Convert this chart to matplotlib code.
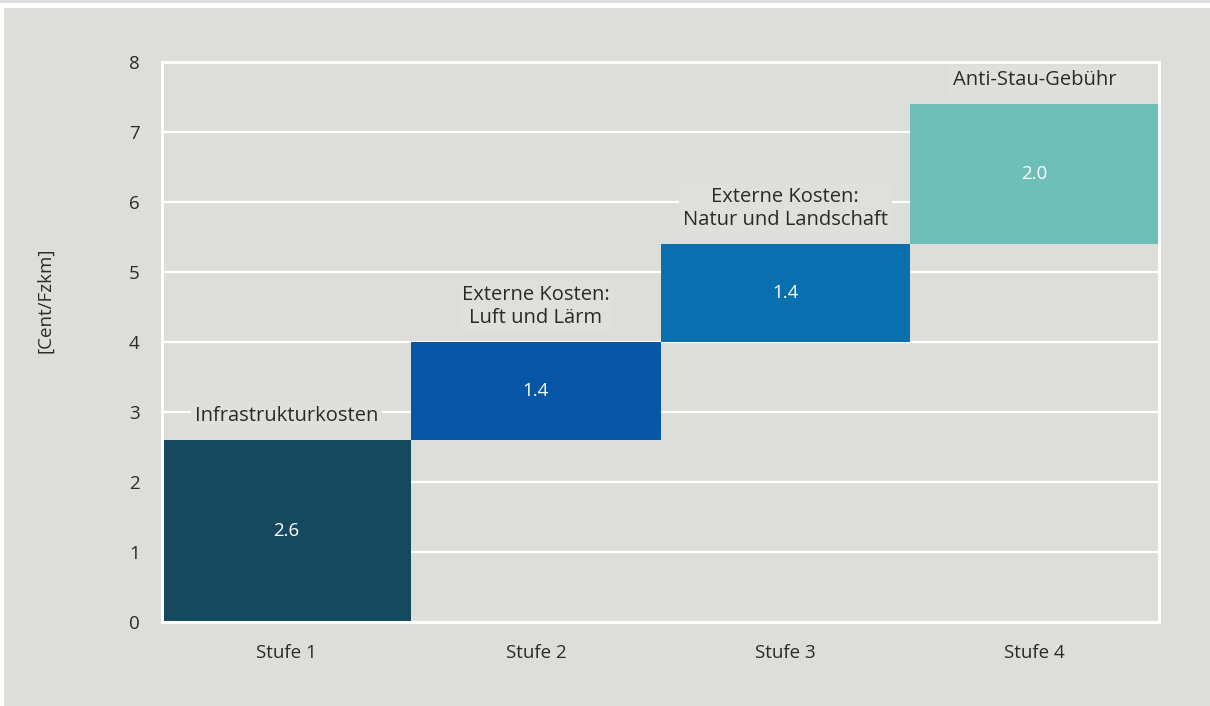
import matplotlib.pyplot as plt
from matplotlib.patches import Rectangle

# Mautstufen: Anteile je Stufe in Cent/Fzkm
stufen = ["Stufe 1", "Stufe 2", "Stufe 3", "Stufe 4"]
anteile = [2.6, 1.4, 1.4, 2.0]
beschriftung = ["Infrastrukturkosten", "Externe Kosten:\nLuft und Lärm",
                "Externe Kosten:\nNatur und Landschaft", "Anti-Stau-Gebühr"]
farben = ["#154a5e", "#0756a6", "#0a6fae", "#6ebfb8"]

bg = "#dddeda"
txt = "#2a2a2a"
plt.rcParams["font.family"] = ["Open Sans", "DejaVu Sans"]

fig = plt.figure(figsize=(12.1, 7.06), dpi=100, facecolor="white")
# grauer Hintergrund mit weisser Linie oben
fig.patches.append(Rectangle((4 / 1210, 0), 1, (706 - 8) / 706, transform=fig.transFigure,
                             facecolor=bg, edgecolor="none", zorder=-10))
fig.patches.append(Rectangle((0, (706 - 3) / 706), 1, 3 / 706, transform=fig.transFigure,
                             facecolor=bg, edgecolor="none", zorder=-10))

ax = fig.add_axes([162 / 1210, (706 - 622) / 706, (1159 - 162) / 1210, 560 / 706])
ax.set_facecolor(bg)

# Treppenstufen: jede Stufe beginnt auf der Summe der vorherigen
basis = []
s = 0
for a in anteile:
    basis.append(s)
    s += a
x = list(range(len(stufen)))
ax.bar(x, anteile, bottom=basis, width=1.0, color=farben, zorder=3)

for i, (b, a) in enumerate(zip(basis, anteile)):
    ax.text(i, b + a / 2, f"{a:.1f}", ha="center", va="center",
            color="white", fontsize=13.5, zorder=4)
    ax.text(i, b + a + 0.2, beschriftung[i], ha="center", va="bottom",
            fontsize=14.5, color=txt, linespacing=1.2, zorder=4,
            bbox=dict(boxstyle="square,pad=0.2", facecolor="#dfe0dc", edgecolor="none"))

ax.set_xlim(-0.5, 3.5)
ax.set_ylim(0, 8)
ax.set_yticks(range(0, 9))
ax.set_xticks(x)
ax.set_xticklabels(stufen)
ax.tick_params(length=0, labelsize=13.5, labelcolor=txt)
ax.tick_params(axis="y", pad=16)
ax.tick_params(axis="x", pad=16)
ax.grid(True, axis="y", color="white", linewidth=1.6, zorder=1)
ax.set_axisbelow(True)
for sp in ax.spines.values():
    sp.set_color("white")
    sp.set_linewidth(2.2)
    sp.set_zorder(3.5)

fig.text(45 / 1210, 1 - 300 / 706, "[Cent/Fzkm]", rotation=90, ha="center", va="center",
         fontsize=13.5, color=txt)

fig.savefig("out.png", dpi=100, facecolor="white")
